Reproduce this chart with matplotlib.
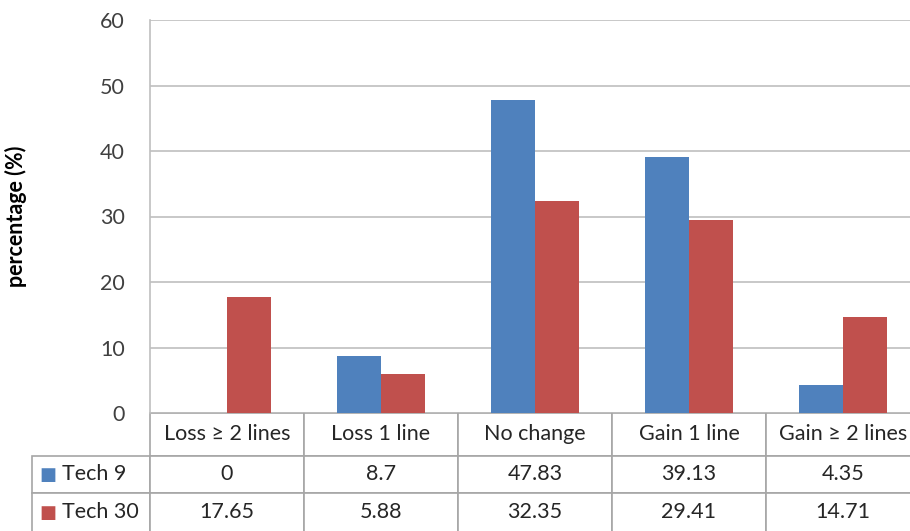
import numpy as np
import matplotlib
matplotlib.use('Agg')
import matplotlib.pyplot as plt

# data
categories = ['Loss \u2265 2 lines', 'Loss 1 line', 'No change', 'Gain 1 line', 'Gain \u2265 2 lines']
series_names = ['Tech 9', 'Tech 30']
tech9 = [0, 8.7, 47.83, 39.13, 4.35]
tech30 = [17.65, 5.88, 32.35, 29.41, 14.71]
colors = ['#4F81BD', '#C0504D']
y_ticks = [0, 10, 20, 30, 40, 50, 60]

plt.rcParams['font.family'] = ['Lato', 'DejaVu Sans']

W, H = 910, 531
fig = plt.figure(figsize=(W / 100, H / 100), dpi=100)

# axes in pixel terms
left, right, top, bottom = 150, 920, 20, 413
ax = fig.add_axes([left / W, 1 - bottom / H, (right - left) / W, (bottom - top) / H])

x = np.arange(len(categories))
bw = 0.286
ax.bar(x - bw / 2, tech9, bw, color=colors[0], zorder=3)
ax.bar(x + bw / 2, tech30, bw, color=colors[1], zorder=3)

ax.set_xlim(-0.5, len(categories) - 0.5)
ax.set_ylim(0, 60)
ax.set_yticks(y_ticks)
ax.set_yticklabels([str(t) for t in y_ticks], fontsize=15.5, color='#404040')
ax.tick_params(axis='y', length=0, pad=18)
ax.set_xticks([])
ax.grid(axis='y', color='#BFBFBF', linewidth=1.2, zorder=0)
for s in ['top', 'right', 'bottom']:
    ax.spines[s].set_visible(False)
ax.spines['left'].set_color('#BFBFBF')
ax.spines['left'].set_linewidth(1.2)

ax.set_ylabel('percentage (%)', fontsize=15.5, fontweight='bold')
ax.yaxis.set_label_coords(-0.16, 0.5)

# data table below the axes
ax_w = right - left
ax_h = bottom - top
tab_left = 32
row_h = [43, 37, 39]
col_w = [left - tab_left] + [ax_w / len(categories)] * len(categories)

cell_text = [[''] + categories,
             [''] + [f'{v:g}' for v in tech9],
             [''] + [f'{v:g}' for v in tech30]]

tab = ax.table(cellText=cell_text, colWidths=col_w, cellLoc='center',
               bbox=[(tab_left - left) / ax_w, -sum(row_h) / ax_h,
                     (right - tab_left) / ax_w, sum(row_h) / ax_h])
tab.auto_set_font_size(False)
for (r, c), cell in tab.get_celld().items():
    cell.set_height(row_h[r])
    cell.set_edgecolor('#A6A6A6')
    cell.set_linewidth(1.2)
    cell.get_text().set_fontsize(15.5)
    cell.get_text().set_color('#262626')
    if r == 0 and c == 0:
        cell.visible_edges = ''

# legend keys and series names in row label cells
for i, name in enumerate(series_names):
    y_top = row_h[0] + sum(row_h[1:i + 1])
    yc = -(y_top + row_h[i + 1] / 2) / ax_h
    ax.text((tab_left + 7 - left) / ax_w, yc, '\u25A0', color=colors[i],
            transform=ax.transAxes, fontsize=13, va='center', ha='left',
            family='DejaVu Sans', clip_on=False)
    ax.text((tab_left + 30 - left) / ax_w, yc, name, color='#262626',
            transform=ax.transAxes, fontsize=15.5, va='center', ha='left',
            clip_on=False)

fig.savefig('out.png', dpi=100)
